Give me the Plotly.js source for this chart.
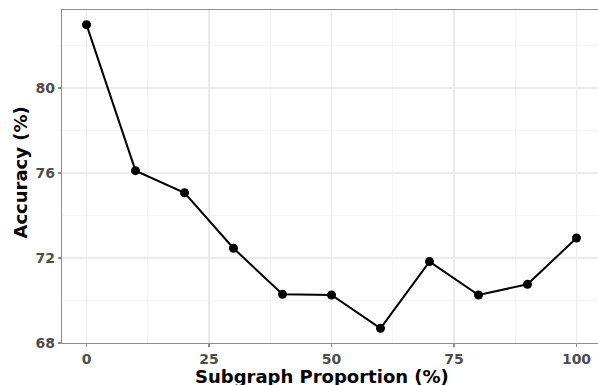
<!DOCTYPE html>
<html>
<head>
<meta charset="utf-8">
<script src="https://cdn.plot.ly/plotly-3.0.1.min.js"></script>
<style>
html,body{margin:0;padding:0;overflow:hidden;background:#fff;}
#chart{width:602px;height:385px;}
</style>
</head>
<body>
<div id="chart"></div>
<script>
const proportions = [0, 10, 20, 30, 40, 50, 60, 70, 80, 90, 100];
const accuracy = [82.98, 76.11, 75.07, 72.46, 70.29, 70.26, 68.69, 71.83, 70.26, 70.76, 72.94];
const xTicks = [0, 25, 50, 75, 100];
const yTicks = [68, 72, 76, 80];
const xTitle = 'Subgraph Proportion (%)';
const yTitle = 'Accuracy (%)';

const trace = {
  x: proportions,
  y: accuracy,
  type: 'scatter',
  mode: 'lines+markers',
  line: {color: '#000000', width: 2},
  marker: {color: '#000000', size: 9},
  cliponaxis: false,
  hoverinfo: 'skip'
};

const axisCommon = {
  showline: true,
  linecolor: '#8c8c8c',
  linewidth: 1.2,
  mirror: true,
  ticks: 'outside',
  ticklen: 3,
  tickwidth: 1.2,
  tickcolor: '#8c8c8c',
  gridcolor: '#ebebeb',
  gridwidth: 1.2,
  zeroline: false,
  tickfont: {family: 'DejaVu Sans', size: 14, color: '#4d4d4d', weight: 'bold'}
};

const titleFont = {family: 'DejaVu Sans', size: 18, color: '#000000', weight: 'bold'};

const layout = {
  width: 602,
  height: 385,
  margin: {l: 62, r: 1, t: 10, b: 42},
  paper_bgcolor: '#ffffff',
  plot_bgcolor: '#ffffff',
  showlegend: false,
  xaxis: Object.assign({}, axisCommon, {
    range: [-5, 105],
    tickmode: 'array',
    tickvals: xTicks,
    ticktext: xTicks.map(String),
    minor: {dtick: 25, tick0: 12.5, showgrid: true, gridcolor: '#f5f5f5', gridwidth: 1, ticks: ''}
  }),
  yaxis: Object.assign({}, axisCommon, {
    range: [68, 83.67],
    tickmode: 'array',
    tickvals: yTicks,
    ticktext: yTicks.map(String),
    minor: {dtick: 4, tick0: 70, showgrid: true, gridcolor: '#f5f5f5', gridwidth: 1, ticks: ''}
  }),
  annotations: [
    {text: xTitle, xref: 'paper', yref: 'paper', x: 0.4824, y: 0,
     xanchor: 'center', yanchor: 'middle', yshift: -33.5, showarrow: false, font: titleFont},
    {text: yTitle, xref: 'paper', yref: 'paper', x: 0, y: 0.512, textangle: -90,
     xanchor: 'center', yanchor: 'middle', xshift: -41, showarrow: false, font: titleFont}
  ]
};

Plotly.newPlot('chart', [trace], layout, {staticPlot: true, displayModeBar: false});
</script>
</body>
</html>
